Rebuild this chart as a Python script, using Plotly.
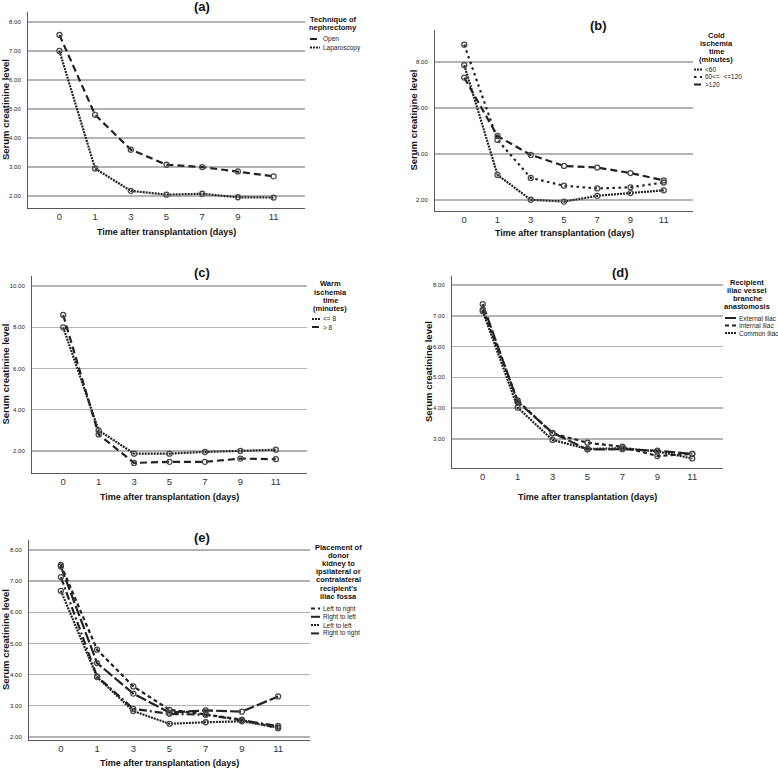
import plotly.graph_objects as go

# ---------------- data ----------------
days = ["0", "1", "3", "5", "7", "9", "11"]

a_open = [7.55, 4.80, 3.60, 3.08, 3.00, 2.85, 2.68]
a_laparoscopy = [7.00, 2.95, 2.18, 2.05, 2.08, 1.96, 1.95]

b_lt60 = [7.86, 3.09, 2.01, 1.93, 2.18, 2.30, 2.42]
b_60_120 = [8.75, 4.61, 2.96, 2.62, 2.50, 2.55, 2.76]
b_gt120 = [7.32, 4.78, 3.96, 3.48, 3.41, 3.17, 2.85]

c_le8 = [8.00, 3.00, 1.87, 1.87, 1.95, 2.00, 2.06]
c_gt8 = [8.60, 2.80, 1.42, 1.47, 1.47, 1.63, 1.60]

d_external = [7.38, 4.21, 3.20, 2.66, 2.67, 2.62, 2.52]
d_internal = [7.20, 4.25, 3.18, 2.88, 2.75, 2.45, 2.52]
d_common = [7.15, 4.02, 2.97, 2.68, 2.70, 2.60, 2.37]

e_left_right = [7.52, 4.80, 3.62, 2.87, 2.72, 2.55, 2.28]
e_right_left = [7.47, 4.37, 3.39, 2.78, 2.85, 2.81, 3.30]
e_left_left = [6.69, 3.92, 2.83, 2.42, 2.47, 2.50, 2.30]
e_right_right = [7.13, 3.94, 2.90, 2.74, 2.71, 2.52, 2.35]

# ---------------- layout helpers ----------------
W, H = 778, 769
def fx(x):
    return x / W
def fy(y):
    return 1 - y / H

FONT = "Liberation Sans, Arial, sans-serif"
LINE = "#222222"
DENSE = "2px,1px"
DASH = "7px,4px"
DOT = "2.5px,3.5px"
LONG = "11px,3px"
SHORT = "4px,3px"
DASHDOT = "8px,3px,2px,3px"

panels = [
    dict(lab="(a)", x0=28, x1=305, y0=12, y1=208, yr=[1.59, 8.34], tv=[2, 3, 4, 5, 6, 7, 8],
         tx=202, ty=7, ytx=5, xty=232,
         series=[("Open", a_open, DASH), ("Laparoscopy", a_laparoscopy, DENSE)],
         lt=["Technique of", "nephrectomy"], lcx=333, lty=19, ldy=8.2,
         liy=39, lidy=8.5, kx=(310, 320), txx=322),
    dict(lab="(b)", x0=435, x1=693, y0=30, y1=211, yr=[1.52, 9.39], tv=[2, 4, 6, 8],
         tx=598, ty=25, ytx=413, xty=233,
         series=[("<60", b_lt60, DENSE), ("60<=  <=120", b_60_120, DOT), (">120", b_gt120, DASH)],
         lt=["Cold", "ischemia", "time", "(minutes)"], lcx=716, lty=35, ldy=8.1,
         liy=69.5, lidy=7.5, kx=(694, 702), txx=704),
    dict(lab="(c)", x0=32, x1=307, y0=276, y1=473, yr=[0.93, 10.49], tv=[2, 4, 6, 8, 10],
         tx=202, ty=272, ytx=5, xty=497,
         series=[("<= 8", c_le8, DENSE), ("> 8", c_gt8, DASH)],
         lt=["Warm", "ischemia", "time", "(minutes)"], lcx=330, lty=284, ldy=8.1,
         liy=319, lidy=8, kx=(312, 320), txx=322),
    dict(lab="(d)", x0=452, x1=723, y0=276, y1=468, yr=[2.06, 8.29], tv=[3, 4, 5, 6, 7, 8],
         tx=620, ty=272, ytx=428, xty=497,
         series=[("External iliac", d_external, LONG), ("Internal iliac", d_internal, SHORT),
                 ("Common iliac", d_common, DENSE)],
         lt=["Recipient", "iliac vessel", "branche", "anastomosis"], lcx=747, lty=282.5, ldy=8.1,
         liy=318, lidy=7.5, kx=(725, 736), txx=738),
    dict(lab="(e)", x0=29, x1=310, y0=540, y1=740, yr=[1.9, 8.32], tv=[2, 3, 4, 5, 6, 7, 8],
         tx=202, ty=537, ytx=5, xty=763,
         series=[("Left to right", e_left_right, SHORT), ("Right to left", e_right_left, LONG),
                 ("Left to left", e_left_left, DENSE), ("Right to right", e_right_right, DASHDOT)],
         lt=["Placement of", "donor", "kidney to", "ipsilateral or", "contralateral",
             "recipient's", "iliac fossa"], lcx=338, lty=547.5, ldy=8.1,
         liy=608.5, lidy=8.3, kx=(311, 320), txx=322),
]

fig = go.Figure()
annotations = []
shapes = []
layout_axes = {}

for i, p in enumerate(panels, start=1):
    xa = "x" if i == 1 else f"x{i}"
    ya = "y" if i == 1 else f"y{i}"
    for name, vals, dash in p["series"]:
        fig.add_trace(go.Scatter(
            x=days, y=vals, name=name, mode="lines+markers",
            line=dict(color=LINE, width=2.2, dash=dash),
            marker=dict(symbol="circle-open", size=5, color="#4a4a4a", line=dict(width=1.3)),
            xaxis=xa, yaxis=ya, showlegend=False, cliponaxis=False,
        ))
    layout_axes["xaxis" if i == 1 else f"xaxis{i}"] = dict(
        domain=[fx(p["x0"]), fx(p["x1"])], anchor=ya, type="category",
        categoryorder="array", categoryarray=days, range=[-0.88, 6.88],
        showline=True, linecolor="#5a5a5a", linewidth=1, showgrid=False, zeroline=False,
        ticks="", tickfont=dict(size=9.5, color="#333", family=FONT), fixedrange=True,
    )
    layout_axes["yaxis" if i == 1 else f"yaxis{i}"] = dict(
        domain=[fy(p["y1"]), fy(p["y0"])], anchor=xa, range=p["yr"], tickvals=p["tv"],
        tickformat=".2f", showgrid=True, gridcolor="#b3b3b3", gridwidth=1.5,
        showline=True, linecolor="#5a5a5a", linewidth=1, zeroline=False, ticks="",
        tickfont=dict(size=6, color="#222", family=FONT), ticklabelstandoff=5, fixedrange=True,
    )
    # panel title
    annotations.append(dict(text=f"<b>{p['lab']}</b>", x=fx(p["tx"]), y=fy(p["ty"]), xref="paper", yref="paper",
                            showarrow=False, font=dict(size=13, color="#111", family=FONT),
                            xanchor="center", yanchor="middle"))
    # y title
    annotations.append(dict(text="<b>Serum creatinine level</b>", x=fx(p["ytx"]),
                            y=fy((p["y0"] + p["y1"]) / 2), xref="paper", yref="paper",
                            showarrow=False, textangle=-90, font=dict(size=9.5, color="#111", family=FONT),
                            xanchor="center", yanchor="middle"))
    # x title
    annotations.append(dict(text="<b>Time after transplantation (days)</b>", x=fx((p["x0"] + p["x1"]) / 2),
                            y=fy(p["xty"]), xref="paper", yref="paper", showarrow=False,
                            font=dict(size=9, color="#111", family=FONT), xanchor="center", yanchor="middle"))
    # legend title
    for j, t in enumerate(p["lt"]):
        annotations.append(dict(text=f"<b>{t}</b>", x=fx(p["lcx"]), y=fy(p["lty"] + j * p["ldy"]),
                                xref="paper", yref="paper", showarrow=False,
                                font=dict(size=7.5, color="#111", family=FONT),
                                xanchor="center", yanchor="middle", borderpad=0))
    # legend entries
    for j, (name, vals, dash) in enumerate(p["series"]):
        yy = p["liy"] + j * p["lidy"]
        shapes.append(dict(type="line", xref="paper", yref="paper",
                           x0=fx(p["kx"][0]), x1=fx(p["kx"][1]), y0=fy(yy), y1=fy(yy),
                           line=dict(color=LINE, width=2, dash=dash)))
        annotations.append(dict(text=name, x=fx(p["txx"]), y=fy(yy), xref="paper", yref="paper",
                                showarrow=False, font=dict(size=6.5, color="#222", family=FONT),
                                xanchor="left", yanchor="middle", borderpad=0))

fig.update_layout(
    width=W, height=H, autosize=False,
    margin=dict(l=0, r=0, t=0, b=0),
    paper_bgcolor="white", plot_bgcolor="white",
    font=dict(family=FONT, color="#222"),
    showlegend=False, hovermode=False,
    annotations=annotations, shapes=shapes,
    **layout_axes,
)

fig.write_html("out.html", config={"displayModeBar": False, "staticPlot": True},
               post_script="document.body.style.margin='0';document.body.style.overflow='hidden';")
